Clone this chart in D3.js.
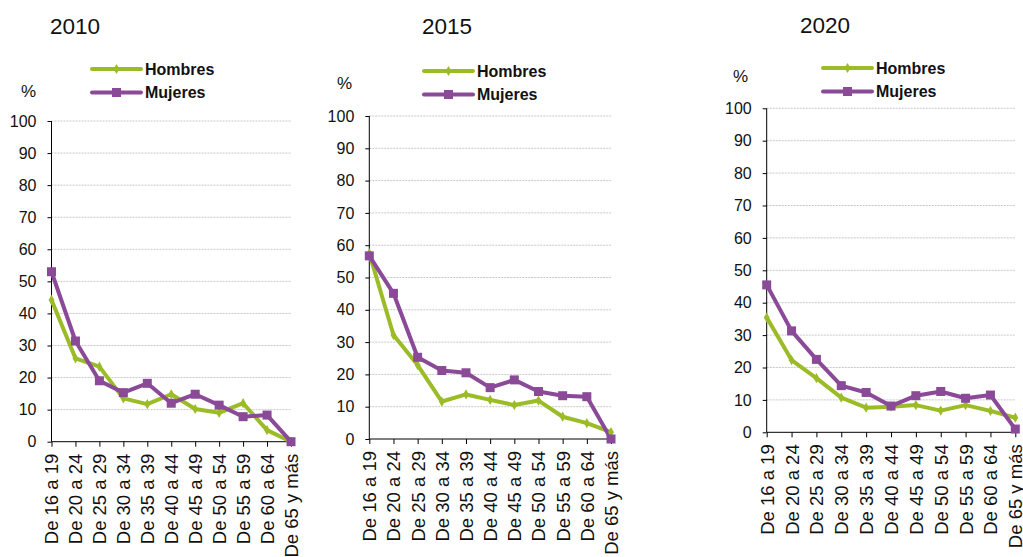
<!DOCTYPE html>
<html>
<head>
<meta charset="utf-8">
<script src="https://cdn.jsdelivr.net/npm/d3@7"></script>
<style>
  html, body { margin: 0; padding: 0; background: #fff; }
  svg { display: block; font-family: "Liberation Sans", Arial, sans-serif; }
</style>
</head>
<body>
<svg id="chart" width="1023" height="557"></svg>
<script>
const categories = ["De 16 a 19","De 20 a 24","De 25 a 29","De 30 a 34","De 35 a 39","De 40 a 44","De 45 a 49","De 50 a 54","De 55 a 59","De 60 a 64","De 65 y más"];
const yTicks = [0,10,20,30,40,50,60,70,80,90,100];
const years = ["2010","2015","2020"];
const seriesNames = ["Hombres","Mujeres"];

const hombres2010 = [44.2,26.0,23.4,13.5,11.7,14.8,10.2,9.0,12.0,3.6,0];
const mujeres2010 = [53.0,31.4,19.0,15.3,18.2,12.0,14.8,11.4,7.8,8.3,0];
const hombres2015 = [57.5,32.2,22.9,11.6,13.8,12.1,10.5,11.9,6.9,4.9,2.1];
const mujeres2015 = [56.7,45.1,25.3,21.2,20.5,15.9,18.3,14.7,13.4,13.1,0];
const hombres2020 = [35.4,22.3,16.7,10.7,7.6,7.9,8.4,6.7,8.4,6.6,4.5];
const mujeres2020 = [45.5,31.3,22.5,14.4,12.3,8.1,11.3,12.6,10.5,11.5,1.0];

const colors = { Hombres: "#9bbb27", Mujeres: "#8a4a98" };

const panels = [
  { year: years[0], h: hombres2010, m: mujeres2010, x0: 51.5, x1: 291, yb: 441.7, yt: 121,
    titleX: 50, titleY: 34, legX: 92, legY: 69, pctX: 21, pctY: 97 },
  { year: years[1], h: hombres2015, m: mujeres2015, x0: 369.3, x1: 611, yb: 439, yt: 116,
    titleX: 422, titleY: 34, legX: 424, legY: 71, pctX: 337, pctY: 89 },
  { year: years[2], h: hombres2020, m: mujeres2020, x0: 766.7, x1: 1015.3, yb: 432.3, yt: 108.3,
    titleX: 800, titleY: 33, legX: 823, legY: 68, pctX: 733, pctY: 82 }
];

const svg = d3.select("#chart");

panels.forEach(p => {
  const g = svg.append("g");
  const x = d3.scalePoint().domain(categories).range([p.x0, p.x1]).padding(0);
  const y = d3.scaleLinear().domain([0, 100]).range([p.yb, p.yt]);

  // gridlines
  g.append("g").selectAll("line").data(yTicks.filter(d => d > 0)).join("line")
    .attr("x1", p.x0).attr("x2", p.x1)
    .attr("y1", d => y(d)).attr("y2", d => y(d))
    .attr("stroke", "#c8c8c8").attr("stroke-width", 1).attr("stroke-dasharray", "2,1");

  // y axis
  const yAxis = d3.axisLeft(y).tickValues(yTicks).tickSize(4).tickPadding(11).tickFormat(d3.format("d"));
  const ya = g.append("g").attr("transform", `translate(${p.x0},0)`).call(yAxis);
  ya.select(".domain").attr("stroke", "#000").attr("d", `M0,${p.yb}V${p.yt}`);
  ya.selectAll(".tick line").attr("stroke", "#000");
  ya.selectAll(".tick text").attr("font-size", 16).attr("fill", "#111").attr("font-family", "Liberation Sans, Arial, sans-serif");

  // x axis
  const xAxis = d3.axisBottom(x).tickSize(5).tickPadding(0);
  const xa = g.append("g").attr("transform", `translate(0,${p.yb})`).call(xAxis);
  xa.select(".domain").attr("stroke", "#000").attr("d", `M${p.x0},0H${p.x1}`);
  xa.selectAll(".tick line").attr("stroke", "#000");
  xa.selectAll(".tick text")
    .attr("font-size", 18.5).attr("fill", "#111").attr("font-family", "Liberation Sans, Arial, sans-serif")
    .attr("text-anchor", "end")
    .attr("transform", "rotate(-90)")
    .attr("x", -12).attr("y", 0).attr("dy", "0.35em");

  // lines
  const line = d3.line().x((d, i) => x(categories[i])).y(d => y(d));
  g.append("path").datum(p.h).attr("d", line).attr("fill", "none")
    .attr("stroke", colors.Hombres).attr("stroke-width", 4).attr("stroke-linejoin", "round");
  g.append("path").datum(p.m).attr("d", line).attr("fill", "none")
    .attr("stroke", colors.Mujeres).attr("stroke-width", 4).attr("stroke-linejoin", "round");

  // markers
  const diamond = d3.symbol().type(d3.symbolDiamond).size(30);
  g.append("g").selectAll("path").data(p.h).join("path")
    .attr("d", diamond)
    .attr("transform", (d, i) => `translate(${x(categories[i])},${y(d)})`)
    .attr("fill", colors.Hombres);
  g.append("g").selectAll("rect").data(p.m).join("rect")
    .attr("x", (d, i) => x(categories[i]) - 4.5).attr("y", d => y(d) - 4.5)
    .attr("width", 9).attr("height", 9)
    .attr("fill", colors.Mujeres);

  // title
  g.append("text").attr("x", p.titleX).attr("y", p.titleY)
    .attr("font-size", 22.5).attr("fill", "#111").text(p.year);

  // % label
  g.append("text").attr("x", p.pctX).attr("y", p.pctY)
    .attr("font-size", 17).attr("fill", "#111").text("%");

  // legend
  seriesNames.forEach((name, k) => {
    const ly = p.legY + k * 23.5;
    g.append("line").attr("x1", p.legX).attr("x2", p.legX + 49)
      .attr("y1", ly).attr("y2", ly)
      .attr("stroke", colors[name]).attr("stroke-width", 4).attr("stroke-linecap", "round");
    if (name === "Mujeres") {
      g.append("rect").attr("x", p.legX + 24.5 - 4.5).attr("y", ly - 4.5)
        .attr("width", 9).attr("height", 9).attr("fill", colors[name]);
    } else {
      g.append("path").attr("d", diamond).attr("transform", `translate(${p.legX + 24.5},${ly})`)
        .attr("fill", colors[name]);
    }
    g.append("text").attr("x", p.legX + 53).attr("y", ly + 5.5)
      .attr("font-size", 16).attr("font-weight", "bold").attr("fill", "#111").text(name);
  });
});
</script>
</body>
</html>
